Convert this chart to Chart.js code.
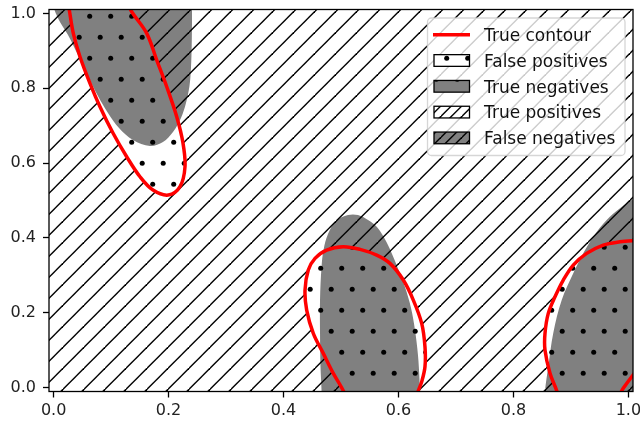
<!DOCTYPE html>
<html><head><meta charset="utf-8">
<script src="https://cdn.jsdelivr.net/npm/chart.js@4.4.1/dist/chart.umd.min.js"></script>
<style>html,body{margin:0;padding:0;background:#fff;overflow:hidden}canvas{display:block}</style>
</head><body>
<canvas id="c" width="640" height="421"></canvas>
<script>
// ---------- data ----------
const xTicks = [0.0, 0.2, 0.4, 0.6, 0.8, 1.0];
const yTicks = [0.0, 0.2, 0.4, 0.6, 0.8, 1.0];
const xRange = [-0.008, 1.008];
const yRange = [-0.0105, 1.0105];
const legendLabels = ['True contour', 'False positives', 'True negatives', 'True positives', 'False negatives'];

// true contour (red) pieces
const trueContourA = [[0.0242,1.0358],[0.0273,1.0091],[0.0343,0.9468],[0.0459,0.8843],[0.0633,0.8132],[0.0807,0.7506],[0.1033,0.6803],[0.1272,0.6169],[0.1503,0.5635],[0.1729,0.5279],[0.1995,0.5146],[0.2199,0.5368],[0.2286,0.5902],[0.2251,0.6536],[0.2142,0.7239],[0.1968,0.8040],[0.1794,0.8754],[0.1620,0.9468],[0.1359,1.0045],[0.1260,1.0358]];
const trueContourB = [[0.5087,-0.0334],[0.5040,-0.0086],[0.4866,0.0380],[0.4692,0.0914],[0.4518,0.1449],[0.4403,0.2072],[0.4374,0.2606],[0.4431,0.3141],[0.4548,0.3454],[0.4751,0.3676],[0.5040,0.3764],[0.5331,0.3694],[0.5621,0.3542],[0.5852,0.3320],[0.6084,0.2874],[0.6258,0.2339],[0.6404,0.1716],[0.6461,0.1091],[0.6461,0.0556],[0.6404,0.0155],[0.6345,-0.0086],[0.6305,-0.0334]];
const trueContourC = [[0.8793,-0.0334],[0.8753,-0.0086],[0.8636,0.0380],[0.8549,0.1002],[0.8549,0.1449],[0.8606,0.1983],[0.8723,0.2427],[0.8867,0.2874],[0.9041,0.3275],[0.9274,0.3587],[0.9563,0.3809],[0.9853,0.3897],[1.0080,0.3924],[1.0289,0.3929]];
const trueContourC2 = [[0.9819,-0.0334],[0.9883,-0.0086],[0.9976,0.0120],[1.0057,0.0289],[1.0202,0.0575]];

// predicted negative (gray) regions
const predictedA = [[-0.0028,1.0358],[0.0016,1.0091],[0.0111,0.9770],[0.0251,0.9423],[0.0424,0.8888],[0.0598,0.8327],[0.0772,0.7792],[0.0946,0.7338],[0.1138,0.6937],[0.1381,0.6616],[0.1677,0.6455],[0.1903,0.6562],[0.2077,0.6830],[0.2216,0.7204],[0.2303,0.7605],[0.2364,0.8059],[0.2390,0.8540],[0.2403,0.9155],[0.2408,0.9823],[0.2408,1.0358]];
const predictedB = [[0.4661,-0.0334],[0.4661,-0.0067],[0.4643,0.0575],[0.4635,0.1457],[0.4635,0.2339],[0.4661,0.3221],[0.4696,0.3676],[0.4774,0.4103],[0.4913,0.4451],[0.5122,0.4611],[0.5296,0.4611],[0.5470,0.4477],[0.5626,0.4290],[0.5800,0.3863],[0.5974,0.3248],[0.6113,0.2687],[0.6218,0.2125],[0.6287,0.1537],[0.6339,0.0869],[0.6366,0.0200],[0.6374,-0.0334]];
const predictedC = [[0.8549,-0.0334],[0.8549,-0.0086],[0.8606,0.0556],[0.8693,0.1457],[0.8840,0.2339],[0.9041,0.3053],[0.9215,0.3587],[0.9389,0.4031],[0.9622,0.4477],[0.9854,0.4790],[1.0057,0.5012],[1.0364,0.5279]];

// ---------- helpers ----------
const pts = a => a.map(p => ({x: p[0], y: p[1]}));
const out = 0.03;
const TL = [xRange[0]-out, yRange[1]+out], TR = [xRange[1]+out, yRange[1]+out];
const BL = [xRange[0]-out, yRange[0]-out], BR = [xRange[1]+out, yRange[0]-out];
const rev = a => a.slice().reverse();

const canvas = document.getElementById('c');
const ctx0 = canvas.getContext('2d');
const T = 21;
function linePattern(spacing, phase) {
  const c = document.createElement('canvas'); c.width = T; c.height = T;
  const g = c.getContext('2d');
  g.strokeStyle = '#000'; g.lineWidth = 1.4;
  const start = (phase % spacing) - 3 * spacing;
  for (let cc = start; cc <= 3 * T; cc += spacing) {
    g.beginPath(); g.moveTo(cc + 30, -30); g.lineTo(cc - T - 30, T + 30); g.stroke();
  }
  return ctx0.createPattern(c, 'repeat');
}
function dotPattern(ax, ay, r) {
  const c = document.createElement('canvas'); c.width = T; c.height = 2 * T;
  const g = c.getContext('2d'); g.fillStyle = '#000';
  const centers = [[ax, ay], [ax + T / 2, ay + T]];
  for (const [cx, cy] of centers) for (const dx of [-T, 0, T]) for (const dy of [-2*T, 0, 2*T]) {
    g.beginPath(); g.arc(cx + dx, cy + dy, r, 0, Math.PI * 2); g.fill();
  }
  return ctx0.createPattern(c, 'repeat');
}
const hatchLines = linePattern(21, 11.3);
const hatchLinesDense = linePattern(10.5, 11.3);
const hatchDots = dotPattern(5.7, 16.3, 2.5);
const GRAY = '#808080';

function fillSet(points, bg, order) {
  return {data: pts(points), backgroundColor: bg, borderColor: 'rgba(0,0,0,0)', borderWidth: 0,
          fill: 'shape', tension: 0.35, pointRadius: 0, order, clip: 0};
}
function lineSet(points) {
  return {data: pts(points), borderColor: '#ff0000', borderWidth: 3.5, fill: false,
          tension: 0.35, pointRadius: 0, order: 0, clip: 0, borderJoinStyle: 'round'};
}

const outsideTrue = [TL, ...trueContourA, TR, ...rev(trueContourC), ...rev(trueContourB), BL];
const outsideCorner = [...trueContourC2, BR];
const insideC = [...trueContourC, ...rev(trueContourC2)];

const datasets = [
  lineSet(trueContourA), lineSet(trueContourB), lineSet(trueContourC), lineSet(trueContourC2),
  fillSet(trueContourA, hatchDots, 1), fillSet(trueContourB, hatchDots, 1), fillSet(insideC, hatchDots, 1),
  fillSet(outsideTrue, hatchLines, 2), fillSet(outsideCorner, hatchLines, 2),
  fillSet(predictedA, GRAY, 3), fillSet(predictedB, GRAY, 3), fillSet([...predictedC, BR], GRAY, 3)
];

const framePlugin = {
  id: 'frame',
  afterDraw(chart) {
    const {ctx, chartArea: a} = chart;
    ctx.save(); ctx.strokeStyle = '#000'; ctx.lineWidth = 1.3;
    ctx.strokeRect(a.left, a.top, a.right - a.left, a.bottom - a.top);
    ctx.restore();
  }
};
const legendPlugin = {
  id: 'mplLegend',
  afterDraw(chart) {
    const ctx = chart.ctx;
    ctx.save();
    ctx.beginPath(); ctx.roundRect(427.5, 18, 197.5, 137.5, 4);
    ctx.fillStyle = 'rgba(255,255,255,0.8)'; ctx.fill();
    ctx.lineWidth = 1.3; ctx.strokeStyle = 'rgba(204,204,204,0.8)'; ctx.stroke();
    const rows = [34.7, 60.5, 86.3, 112.1, 137.9];
    const bases = [null, '#ffffff', GRAY, '#ffffff', GRAY];
    const hatches = [null, hatchDots, hatchDots, hatchLinesDense, hatchLinesDense];
    legendLabels.forEach((lab, i) => {
      const y = rows[i];
      if (i === 0) {
        ctx.beginPath(); ctx.moveTo(433, y); ctx.lineTo(470, y);
        ctx.strokeStyle = '#ff0000'; ctx.lineWidth = 3.5; ctx.stroke();
      } else {
        const bx = 434, bw = 35.5, bh = 11.7, by = y - bh / 2;
        ctx.fillStyle = bases[i]; ctx.fillRect(bx, by, bw, bh);
        ctx.fillStyle = hatches[i]; ctx.fillRect(bx, by, bw, bh);
        ctx.lineWidth = 1.3; ctx.strokeStyle = '#000'; ctx.strokeRect(bx, by, bw, bh);
      }
      ctx.fillStyle = '#111'; ctx.font = '17px "DejaVu Sans"'; ctx.textBaseline = 'alphabetic'; ctx.textAlign = 'left';
      ctx.fillText(lab, 484, y + 6.2);
    });
    ctx.restore();
  }
};

const tickFont = {family: 'DejaVu Sans', size: 16};
new Chart(canvas, {
  type: 'line',
  data: {datasets},
  options: {
    responsive: false, animation: false, devicePixelRatio: 1, events: [],
    layout: {padding: {left: 0, top: 9.5, right: 7, bottom: 0}},
    plugins: {legend: {display: false}, tooltip: {enabled: false}},
    elements: {line: {capBezierPoints: false}, point: {radius: 0}},
    scales: {
      x: {type: 'linear', min: xRange[0], max: xRange[1],
          afterBuildTicks: s => { s.ticks = xTicks.map(v => ({value: v})); },
          afterFit: s => { s.height = 29.5; s.paddingLeft = 0; s.paddingRight = 0; },
          ticks: {callback: v => Number(v).toFixed(1), font: tickFont, color: '#222', padding: 4, maxRotation: 0, autoSkip: false},
          grid: {drawOnChartArea: false, tickLength: 6, tickColor: '#000', tickWidth: 1.3},
          border: {display: false}},
      y: {type: 'linear', min: yRange[0], max: yRange[1],
          afterBuildTicks: s => { s.ticks = yTicks.map(v => ({value: v})); },
          afterFit: s => { s.width = 49; s.paddingTop = 0; s.paddingBottom = 0; },
          ticks: {callback: v => Number(v).toFixed(1), font: tickFont, color: '#222', padding: 7, autoSkip: false},
          grid: {drawOnChartArea: false, tickLength: 6, tickColor: '#000', tickWidth: 1.3},
          border: {display: false}}
    }
  },
  plugins: [framePlugin, legendPlugin]
});
</script>
</body></html>
